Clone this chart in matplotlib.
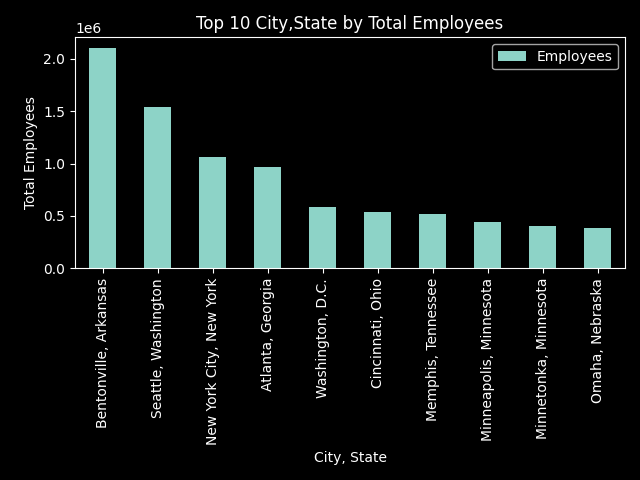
import matplotlib
matplotlib.use("Agg")
import matplotlib.pyplot as plt
import pandas as pd

plt.style.use("dark_background")

cities = [
    "Bentonville, Arkansas",
    "Seattle, Washington",
    "New York City, New York",
    "Atlanta, Georgia",
    "Washington, D.C.",
    "Cincinnati, Ohio",
    "Memphis, Tennessee",
    "Minneapolis, Minnesota",
    "Minnetonka, Minnesota",
    "Omaha, Nebraska",
]
employees = [2100000, 1541000, 1062000, 967000, 585000, 536000, 518000, 441000, 402000, 384000]

df = pd.DataFrame({"Employees": employees}, index=pd.Index(cities, name="City, State"))

fig, ax = plt.subplots(figsize=(6.4, 4.8), dpi=100)
df.plot(kind="bar", ax=ax, color="#8dd3c7")
ax.set_title("Top 10 City,State by Total Employees")
ax.set_xlabel("City, State")
ax.set_ylabel("Total Employees")
plt.tight_layout()
plt.savefig("out.png", dpi=100)
